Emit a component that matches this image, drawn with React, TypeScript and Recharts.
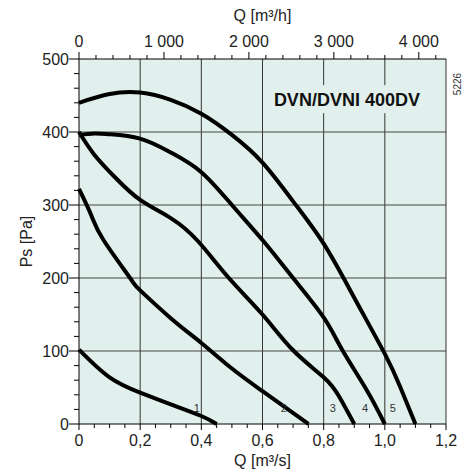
import { LineChart, Line, XAxis, YAxis, CartesianGrid, ReferenceLine, ReferenceDot } from "recharts";

// fan curves, Q [m³/s] vs Ps [Pa]
const curve1 = [
  { q: 0, p: 102 }, { q: 0.1, p: 64 }, { q: 0.2, p: 43 }, { q: 0.3, p: 27 },
  { q: 0.4, p: 11 }, { q: 0.45, p: 0 },
];
const curve2 = [
  { q: 0, p: 322 }, { q: 0.04, p: 286 }, { q: 0.08, p: 252 }, { q: 0.167, p: 200 },
  { q: 0.2, p: 183 }, { q: 0.3, p: 145 }, { q: 0.4, p: 111 }, { q: 0.5, p: 76 },
  { q: 0.6, p: 45 }, { q: 0.75, p: 0 },
];
const curve3 = [
  { q: 0, p: 400 }, { q: 0.05, p: 369 }, { q: 0.12, p: 337 }, { q: 0.2, p: 307 },
  { q: 0.3, p: 282 }, { q: 0.39, p: 250 }, { q: 0.49, p: 200 }, { q: 0.6, p: 150 },
  { q: 0.7, p: 101 }, { q: 0.8, p: 64 }, { q: 0.85, p: 38 }, { q: 0.9, p: 0 },
];
const curve4 = [
  { q: 0, p: 396 }, { q: 0.05, p: 398 }, { q: 0.1, p: 397 }, { q: 0.2, p: 391 },
  { q: 0.3, p: 372 }, { q: 0.4, p: 345 }, { q: 0.5, p: 300 }, { q: 0.6, p: 252 },
  { q: 0.7, p: 200 }, { q: 0.8, p: 146 }, { q: 0.86, p: 102 }, { q: 0.94, p: 47 },
  { q: 1.0, p: 0 },
];
const curve5 = [
  { q: 0, p: 440 }, { q: 0.1, p: 452 }, { q: 0.2, p: 454 }, { q: 0.3, p: 444 },
  { q: 0.4, p: 425 }, { q: 0.5, p: 396 }, { q: 0.6, p: 358 }, { q: 0.7, p: 305 },
  { q: 0.8, p: 247 }, { q: 0.9, p: 173 }, { q: 1.0, p: 96 }, { q: 1.05, p: 51 },
  { q: 1.1, p: 0 },
];
const curves = [curve1, curve2, curve3, curve4, curve5];

// span of the upper m³/h scale (1,2 m³/s = 4320 m³/h)
const hSpan = [{ h: 0, p: 0 }, { h: 4320, p: 0 }];

const curveTags = [
  { name: "1", q: 0.385, p: 22 },
  { name: "2", q: 0.67, p: 22 },
  { name: "3", q: 0.83, p: 22 },
  { name: "4", q: 0.935, p: 22 },
  { name: "5", q: 1.026, p: 22 },
];

const qTicks = [
  0, 0.05, 0.1, 0.15, 0.2, 0.25, 0.3, 0.35, 0.4, 0.45, 0.5, 0.55, 0.6, 0.65, 0.7,
  0.75, 0.8, 0.85, 0.9, 0.95, 1.0, 1.05, 1.1, 1.15, 1.2,
];
const qMajor = [0, 0.2, 0.4, 0.6, 0.8, 1.0, 1.2];
const hTicks = [
  0, 200, 400, 600, 800, 1000, 1200, 1400, 1600, 1800, 2000, 2200, 2400, 2600,
  2800, 3000, 3200, 3400, 3600, 3800, 4000, 4200,
];
const hMajor = [0, 1000, 2000, 3000, 4000];
const pTicks = [
  0, 20, 40, 60, 80, 100, 120, 140, 160, 180, 200, 220, 240, 260, 280, 300, 320,
  340, 360, 380, 400, 420, 440, 460, 480, 500,
];
const pMajor = [0, 100, 200, 300, 400, 500];

const BG = "#e1f0ec";
const FONT = "'Liberation Sans', Arial, sans-serif";
const TXT = "#222";
const FS = 16;

const isMajor = (list: number[], v: number) => list.some((m) => Math.abs(m - v) < 1e-6);
const fmtQ = (v: number) => (v === 0 ? "0" : v.toFixed(1).replace(".", ","));
const fmtH = (v: number) =>
  v >= 1000 ? `${Math.floor(v / 1000)} ${String(v % 1000).padStart(3, "0")}` : `${v}`;

const BottomTick = ({ x, y, payload }: any) => {
  const major = isMajor(qMajor, payload.value);
  return (
    <g>
      <line x1={x} x2={x} y1={y} y2={y + (major ? 6 : 4)} stroke="#000" />
      {major && (
        <text x={x} y={y + 22} textAnchor="middle" fontSize={FS} fontFamily={FONT} fill={TXT}>
          {fmtQ(payload.value)}
        </text>
      )}
    </g>
  );
};

const TopTick = ({ x, y, payload }: any) => {
  const major = isMajor(hMajor, payload.value);
  return (
    <g>
      <line x1={x} x2={x} y1={y} y2={y - (major ? 7 : 4)} stroke="#000" />
      {major && (
        <text x={x} y={y - 12} textAnchor="middle" fontSize={FS} fontFamily={FONT} fill={TXT}>
          {fmtH(payload.value)}
        </text>
      )}
    </g>
  );
};

const LeftTick = ({ x, y, payload }: any) => {
  const major = isMajor(pMajor, payload.value);
  return (
    <g>
      <line x1={x} x2={x - (major ? 10 : 5)} y1={y} y2={y} stroke="#000" />
      {major && (
        <text x={x - 10} y={y + 6} textAnchor="end" fontSize={FS} fontFamily={FONT} fill={TXT}>
          {payload.value}
        </text>
      )}
    </g>
  );
};

export default function App() {
  return (
    <div style={{ position: "absolute", left: 0, top: 0, width: 464, height: 472, background: "#fff" }}>
      <LineChart width={464} height={472} margin={{ top: 0, right: 18, bottom: 0, left: 0 }}>
        <CartesianGrid fill={BG} horizontal={false} vertical={false} />

        <XAxis
          dataKey="q"
          type="number"
          domain={[0, 1.2]}
          ticks={qTicks}
          interval={0}
          height={48}
          tickSize={0}
          tickMargin={0}
          tickLine={false}
          axisLine={{ stroke: "#000" }}
          tick={<BottomTick />}
          label={{
            content: ({ viewBox }: any) => (
              <text x={viewBox.x + viewBox.width / 2} y={viewBox.y + 42} textAnchor="middle" fontSize={FS} fontFamily={FONT} fill={TXT}>
                Q [m³/s]
              </text>
            ),
          }}
        />
        <XAxis
          xAxisId="top"
          orientation="top"
          dataKey="h"
          type="number"
          domain={[0, 4320]}
          allowDataOverflow
          ticks={hTicks}
          interval={0}
          height={59}
          tickSize={0}
          tickMargin={0}
          tickLine={false}
          axisLine={{ stroke: "#000" }}
          tick={<TopTick />}
          label={{
            content: ({ viewBox }: any) => (
              <text x={viewBox.x + viewBox.width / 2} y={21} textAnchor="middle" fontSize={FS} fontFamily={FONT} fill={TXT}>
                Q [m³/h]
              </text>
            ),
          }}
        />
        <YAxis
          type="number"
          domain={[0, 500]}
          ticks={pTicks}
          interval={0}
          width={79}
          tickSize={0}
          tickMargin={0}
          tickLine={false}
          axisLine={{ stroke: "#000" }}
          tick={<LeftTick />}
          label={{
            content: ({ viewBox }: any) => {
              const cx = 32;
              const cy = viewBox.y + viewBox.height / 2;
              return (
                <text x={cx} y={cy} transform={`rotate(-90 ${cx} ${cy})`} textAnchor="middle" fontSize={FS} fontFamily={FONT} fill={TXT}>
                  Ps [Pa]
                </text>
              );
            },
          }}
        />

        {qMajor.slice(1).map((v) => (
          <ReferenceLine key={`v${v}`} x={v} stroke="#333" strokeWidth={1} />
        ))}
        {pMajor.slice(1, -1).map((v) => (
          <ReferenceLine key={`h${v}`} y={v} stroke="#444" strokeWidth={1} />
        ))}

        <ReferenceDot
          x={0.876}
          y={445}
          r={0}
          fill="none"
          stroke="none"
          label={{
            content: ({ viewBox }: any) => (
              <g>
                <rect x={viewBox.x - 72} y={viewBox.y - 14} width={146} height={28} fill={BG} />
                <text x={viewBox.x} y={viewBox.y + 6.5} textAnchor="middle" fontSize={18} fontWeight="bold" fontFamily={FONT} fill="#111">
                  DVN/DVNI 400DV
                </text>
              </g>
            ),
          }}
        />

        {/* invisible series so the upper m³/h axis is drawn */}
        <Line
          xAxisId="top"
          data={hSpan}
          dataKey="p"
          stroke="none"
          dot={false}
          activeDot={false}
          isAnimationActive={false}
        />

        {curves.map((c, i) => (
          <Line
            key={i}
            data={c}
            dataKey="p"
            type="natural"
            stroke="#000"
            strokeWidth={4}
            dot={false}
            activeDot={false}
            isAnimationActive={false}
          />
        ))}

        {curveTags.map((t) => (
          <ReferenceDot
            key={t.name}
            x={t.q}
            y={t.p}
            r={0}
            fill="none"
            stroke="none"
            label={{ value: t.name, position: "center", fontSize: 11, fill: "#333", fontFamily: FONT }}
          />
        ))}
      </LineChart>
      <div
        style={{
          position: "absolute",
          left: 457,
          top: 84,
          transform: "translate(-50%, -50%) rotate(-90deg)",
          fontSize: 10,
          fontFamily: FONT,
          color: "#333",
          whiteSpace: "nowrap",
        }}
      >
        5226
      </div>
    </div>
  );
}
